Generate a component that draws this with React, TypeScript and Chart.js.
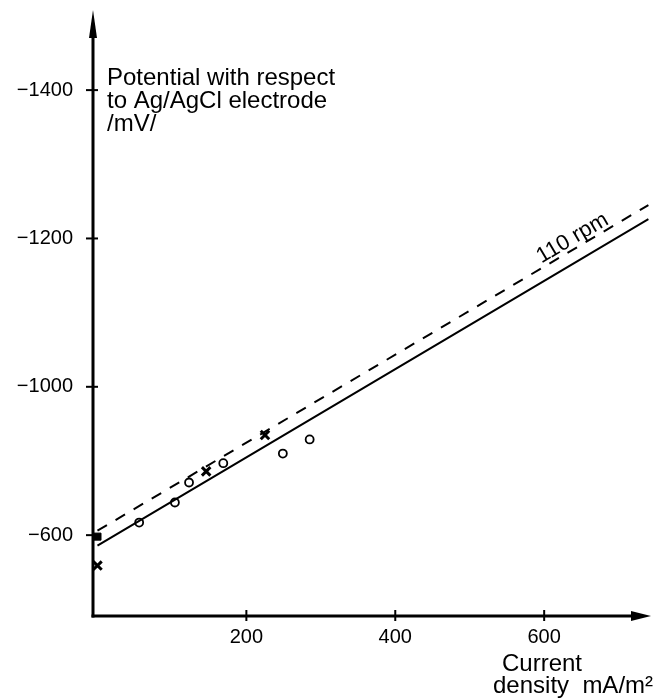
import React, { useEffect, useRef } from "react";
import { Chart, registerables } from "chart.js";

Chart.register(...registerables);

// ---- data ----
const xTicks = [200, 400, 600];
const xTickLabels = ["200", "400", "600"];
const yTicks = [-800, -1000, -1200, -1400];
const yTickLabels = ["−600", "−1000", "−1200", "−1400"];

const circleX = [56, 104, 123, 169, 249, 285];
const circleY = [-817, -844, -871, -897, -910, -929];
const crossX = [0, 146, 225];
const crossY = [-759, -886, -935];
const filledX = [0];
const filledY = [-798];

const lineX = [0, 740];
const solidY = [-786, -1226];
const dashedY = [-806, -1245];

const rpmLabel = "110 rpm";
const rpmLabelX = 645;
const yTitle = ["Potential with respect", "to Ag/AgCl electrode", "/mV/"];
const xTitle = ["Current", "density  mA/m²"];

const FONT = '"Liberation Sans", Arial, sans-serif';

const pts = (xs: number[], ys: number[]) => xs.map((x, i) => ({ x, y: ys[i] }));

const axesPlugin = {
  id: "handAxes",
  beforeDatasetsDraw(chart: any) {
    const ctx = chart.ctx;
    const xs = chart.scales.x;
    const ys = chart.scales.y;
    const ax = xs.left;
    const ab = ys.bottom;
    ctx.save();
    ctx.strokeStyle = "#000";
    ctx.fillStyle = "#000";
    ctx.lineWidth = 3;
    // y axis
    ctx.beginPath();
    ctx.moveTo(ax, ab + 1.5);
    ctx.lineTo(ax, ys.top + 20);
    ctx.stroke();
    ctx.beginPath();
    ctx.moveTo(ax, ys.top);
    ctx.lineTo(ax - 4, ys.top + 28);
    ctx.lineTo(ax + 4, ys.top + 28);
    ctx.closePath();
    ctx.fill();
    // x axis
    ctx.beginPath();
    ctx.moveTo(ax - 1.5, ab);
    ctx.lineTo(xs.right - 15, ab);
    ctx.stroke();
    ctx.beginPath();
    ctx.moveTo(xs.right, ab);
    ctx.lineTo(xs.right - 20, ab - 5);
    ctx.lineTo(xs.right - 20, ab + 5);
    ctx.closePath();
    ctx.fill();
    // ticks
    ctx.lineWidth = 2;
    yTicks.forEach((v) => {
      const py = ys.getPixelForValue(v);
      ctx.beginPath();
      ctx.moveTo(ax - 7, py);
      ctx.lineTo(ax + 5, py);
      ctx.stroke();
    });
    xTicks.forEach((v) => {
      const px = xs.getPixelForValue(v);
      ctx.beginPath();
      ctx.moveTo(px, ab - 6);
      ctx.lineTo(px, ab + 5);
      ctx.stroke();
    });
    // tick labels
    ctx.font = `20px ${FONT}`;
    ctx.textBaseline = "middle";
    ctx.textAlign = "right";
    yTicks.forEach((v, i) => {
      ctx.fillText(yTickLabels[i], 73, ys.getPixelForValue(v));
    });
    ctx.textAlign = "center";
    ctx.textBaseline = "alphabetic";
    xTicks.forEach((v, i) => {
      ctx.fillText(xTickLabels[i], xs.getPixelForValue(v), ab + 27);
    });
    // axis titles
    ctx.textAlign = "left";
    ctx.textBaseline = "alphabetic";
    ctx.font = `24px ${FONT}`;
    const tl = [85, 108, 131];
    yTitle.forEach((t, i) => ctx.fillText(t, 107, tl[i]));
    ctx.fillText(xTitle[0], 502, 671);
    ctx.fillText(xTitle[1], 493, 693);
    // rpm label
    const x1 = xs.getPixelForValue(lineX[0]);
    const y1 = ys.getPixelForValue(dashedY[0]);
    const x2 = xs.getPixelForValue(lineX[1]);
    const y2 = ys.getPixelForValue(dashedY[1]);
    const ang = Math.atan2(y2 - y1, x2 - x1);
    const t = (rpmLabelX - lineX[0]) / (lineX[1] - lineX[0]);
    const lx = x1 + (x2 - x1) * t;
    const ly = y1 + (y2 - y1) * t;
    ctx.translate(lx, ly);
    ctx.rotate(ang);
    ctx.textAlign = "center";
    ctx.textBaseline = "alphabetic";
    ctx.font = `22px ${FONT}`;
    ctx.fillText(rpmLabel, 0, -4);
    ctx.restore();
  },
};

export default function App() {
  const ref = useRef<HTMLCanvasElement>(null);
  useEffect(() => {
    if (!ref.current) return;
    const chart = new Chart(ref.current, {
      type: "scatter",
      data: {
        datasets: [
          {
            type: "line",
            data: pts(lineX, solidY),
            borderColor: "#000",
            borderWidth: 2,
            pointRadius: 0,
            fill: false,
          },
          {
            type: "line",
            data: pts(lineX, dashedY),
            borderColor: "#000",
            borderWidth: 2,
            borderDash: [11, 10],
            pointRadius: 0,
            fill: false,
          },
          {
            data: pts(circleX, circleY),
            pointStyle: "circle",
            pointRadius: 4,
            borderColor: "#000",
            backgroundColor: "#fff",
            borderWidth: 1.8,
          },
          {
            data: pts(crossX, crossY),
            pointStyle: "crossRot",
            pointRadius: 6,
            borderColor: "#000",
            borderWidth: 3,
          },
          {
            data: pts(filledX, filledY),
            pointStyle: "rect",
            pointRadius: 5,
            borderColor: "#000",
            backgroundColor: "#000",
            borderWidth: 1,
          },
        ],
      },
      options: {
        animation: false,
        responsive: false,
        events: [],
        layout: { padding: { left: 93, top: 10, right: 3, bottom: 84 } },
        plugins: { legend: { display: false }, tooltip: { enabled: false } },
        clip: false as any,
        scales: {
          x: { type: "linear", min: -6, max: 743.5, display: false },
          y: { type: "linear", min: -1508, max: -691, reverse: true, display: false },
        },
      },
      plugins: [axesPlugin],
    });
    return () => chart.destroy();
  }, []);
  return (
    <div style={{ position: "fixed", left: 0, top: 0, width: 660, height: 700, background: "#fff" }}>
      <canvas ref={ref} width={660} height={700} style={{ width: 660, height: 700 }} />
    </div>
  );
}
